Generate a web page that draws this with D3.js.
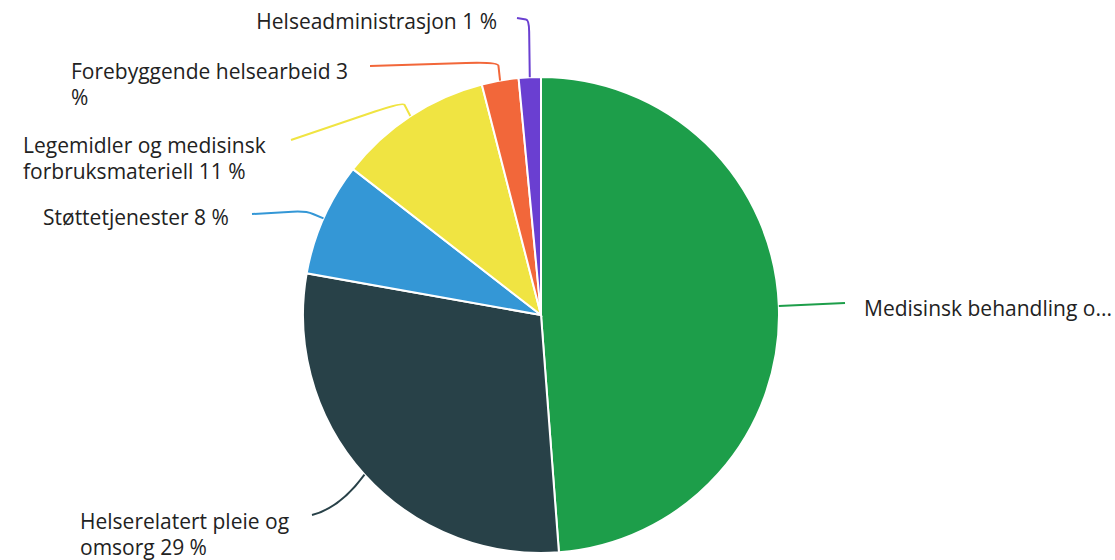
<!DOCTYPE html>
<html>
<head>
<meta charset="utf-8">
<script src="https://cdn.jsdelivr.net/npm/d3@7"></script>
<style>
  body { margin: 0; background: #fff; }
  text { font-family: "Open Sans", sans-serif; font-size: 21px; fill: #222; }
</style>
</head>
<body>
<div id="chart"></div>
<script>
var categories = ["Medisinsk behandling og rehabilitering", "Helserelatert pleie og omsorg", "Støttetjenester",
    "Legemidler og medisinsk forbruksmateriell", "Forebyggende helsearbeid", "Helseadministrasjon"];
var values = [48.8, 29.0, 7.7, 10.5, 2.5, 1.5];
var labelLines = [
    ["Medisinsk behandling o..."],
    ["Helserelatert pleie og", "omsorg 29 %"],
    ["Støttetjenester 8 %"],
    ["Legemidler og medisinsk", "forbruksmateriell 11 %"],
    ["Forebyggende helsearbeid 3", "%"],
    ["Helseadministrasjon 1 %"]
];
var colors = ["#1d9e4a", "#284148", "#3497d6", "#f0e442", "#f2673a", "#6a3fd1"];

// label placement (layout only)
var layout = [
    {x: 864, y: 316, anchor: "start", end: [845, 303], corner: null},
    {x: 80, y: 529, anchor: "start", end: [312, 515], corner: [340, 508], t: 0},
    {x: 43, y: 225, anchor: "start", end: [252, 214], corner: [306, 211], t: 0.6},
    {x: 23, y: 153, anchor: "start", end: [291, 140], corner: [403, 102], t: 0.8},
    {x: 71, y: 79, anchor: "start", end: [370, 66], corner: [498, 62], t: 0.8},
    {x: 497, y: 29, anchor: "end", end: [517, 18], corner: [529, 20], t: 0.8}
];

var width = 1115, height = 560;
var cx = 541, cy = 315, radius = 238;

var svg = d3.select("#chart").append("svg")
    .attr("width", width)
    .attr("height", height);

var g = svg.append("g").attr("transform", "translate(" + cx + "," + cy + ")");

var pie = d3.pie().sort(null).value(function (d) { return d; });
var arcs = pie(values);

var arc = d3.arc().innerRadius(0).outerRadius(radius);
var edge = d3.arc().innerRadius(radius).outerRadius(radius);

g.selectAll("path.slice")
    .data(arcs)
    .enter().append("path")
    .attr("class", "slice")
    .attr("d", arc)
    .attr("fill", function (d, i) { return colors[i]; })
    .attr("stroke", "#fff")
    .attr("stroke-width", 2);

// connectors
svg.selectAll("path.conn")
    .data(arcs)
    .enter().append("path")
    .attr("class", "conn")
    .attr("fill", "none")
    .attr("stroke-width", 2)
    .attr("stroke", function (d, i) { return colors[i]; })
    .attr("d", function (d, i) {
        var p = edge.centroid(d);
        var x0 = p[0] + cx, y0 = p[1] + cy;
        var l = layout[i];
        if (!l.corner) return "M" + x0 + "," + y0 + "L" + l.end[0] + "," + l.end[1];
        var c = l.corner;
        if (l.t === 0) return "M" + x0 + "," + y0 + "Q" + c[0] + "," + c[1] + " " + l.end[0] + "," + l.end[1];
        // go most of the way to the corner then round it off
        var t = l.t;
        var ax = x0 + (c[0] - x0) * t, ay = y0 + (c[1] - y0) * t;
        var bx = c[0] + (l.end[0] - c[0]) * 0.25, by = c[1] + (l.end[1] - c[1]) * 0.25;
        return "M" + x0 + "," + y0 + "L" + ax + "," + ay + "Q" + c[0] + "," + c[1] + " " + bx + "," + by +
            "L" + l.end[0] + "," + l.end[1];
    });

// labels
labelLines.forEach(function (lines, i) {
    var l = layout[i];
    var t = svg.append("text")
        .attr("x", l.x)
        .attr("y", l.y)
        .attr("text-anchor", l.anchor);
    t.append("title").text(categories[i]);
    lines.forEach(function (s, k) {
        t.append("tspan").attr("x", l.x).attr("dy", k === 0 ? 0 : 26).text(s);
    });
});
</script>
</body>
</html>
